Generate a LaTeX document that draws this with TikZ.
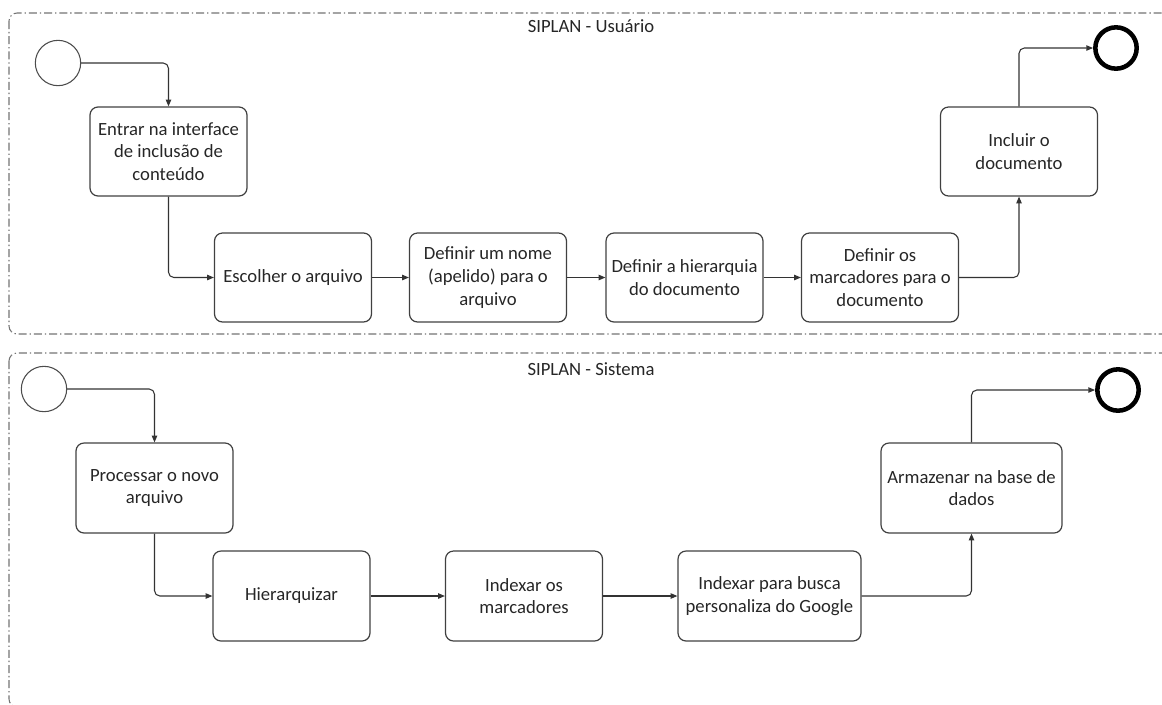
\documentclass[tikz,border=0pt]{standalone}
\usepackage{fontspec}
\setmainfont{Carlito}
\usetikzlibrary{arrows.meta}

\tikzset{
  lane/.style={draw=black!55, line width=0.8pt, rounded corners=6pt,
    dash pattern=on 6pt off 2.2pt on 1pt off 2.2pt},
  lanetitle/.style={font=\fontsize{14}{17}\selectfont, text=black!85},
  task/.style={rectangle, draw=black!75, line width=0.9pt, rounded corners=6pt,
    minimum width=117.75pt, minimum height=66.75pt, align=center, inner sep=2pt,
    font=\fontsize{14}{17}\selectfont, text=black!85},
  startev/.style={circle, draw=black!70, line width=0.8pt, minimum size=34pt, inner sep=0pt},
  endev/.style={circle, draw=black, line width=3.4pt, minimum size=31pt, inner sep=0pt},
  flow/.style={draw=black!80, line width=0.8pt, rounded corners=4pt,
    -{Triangle[length=5pt,width=4pt]}}
}

\begin{document}
\begin{tikzpicture}[x=0.75pt, y=-0.75pt]
% Constants (pixels of the page)
\def\upperRow{151.5} % y of the upper tasks
\def\lowerRow{277.5} % y of the lower tasks
\def\upperRowB{488} % same, second lane
\def\lowerRowB{596}

\useasboundingbox (0,0) rectangle (1162,704);

% Lanes
\draw[lane] (9,13) rectangle (1178,334);
\draw[lane] (9,353) rectangle (1178,707);
\node[lanetitle] (usertitle) at (591,26) {SIPLAN - Usuário};
\node[lanetitle] (systitle) at (591,369) {SIPLAN - Sistema};

% Lane 1: user
\node[startev] (start-u) at (58,63) {};
\node[task] (u1) at (168.5,\upperRow) {Entrar na interface\\de inclusão de\\conteúdo};
\node[task] (u2) at (293,\lowerRow) {Escolher o arquivo};
\node[task] (u3) at (488,\lowerRow) {Definir um nome\\(apelido) para o\\arquivo};
\node[task] (u4) at (684.5,\lowerRow) {Definir a hierarquia\\do documento};
\node[task] (u5) at (880,\lowerRow) {Definir os\\marcadores para o\\documento};
\node[task] (u6) at (1019,\upperRow) {Incluir o\\documento};
\node[endev] (end-u) at (1116,48) {};

\draw[flow] (start-u.east) -| (u1.north);
\draw[flow] (u1.south) |- (u2.west);
\foreach \a/\b in {u2/u3, u3/u4, u4/u5} {
    \draw[flow] (\a) -- (\b);
}
\draw[flow] (u5.east) -| (u6.south);
\draw[flow] (u6.north) |- (end-u.west);

% Lane 2: system
\node[startev] (start-s) at (44,389) {};
\node[task, minimum height=67.5pt] (s1) at (154.5,\upperRowB) {Processar o novo\\arquivo};
\node[task, minimum height=67.5pt] (s2) at (291.5,\lowerRowB) {Hierarquizar};
\node[task, minimum height=67.5pt] (s3) at (524,\lowerRowB) {Indexar os\\marcadores};
\node[task, minimum height=67.5pt, minimum width=137.25pt] (s4) at (769.5,\lowerRowB) {Indexar para busca\\personaliza do Google};
\node[task, minimum height=67.5pt, minimum width=135.75pt] (s5) at (971.5,\upperRowB) {Armazenar na base de\\dados};
\node[endev] (end-s) at (1118,390) {};

\draw[flow] (start-s.east) -| (s1.north);
\draw[flow] (s1.south) |- (s2.west);
\foreach \a/\b in {s2/s3, s3/s4} {
    \draw[flow] (\a) -- (\b);
}
\draw[flow] (s4.east) -| (s5.south);
\draw[flow] (s5.north) |- (end-s.west);

\end{tikzpicture}
\end{document}
